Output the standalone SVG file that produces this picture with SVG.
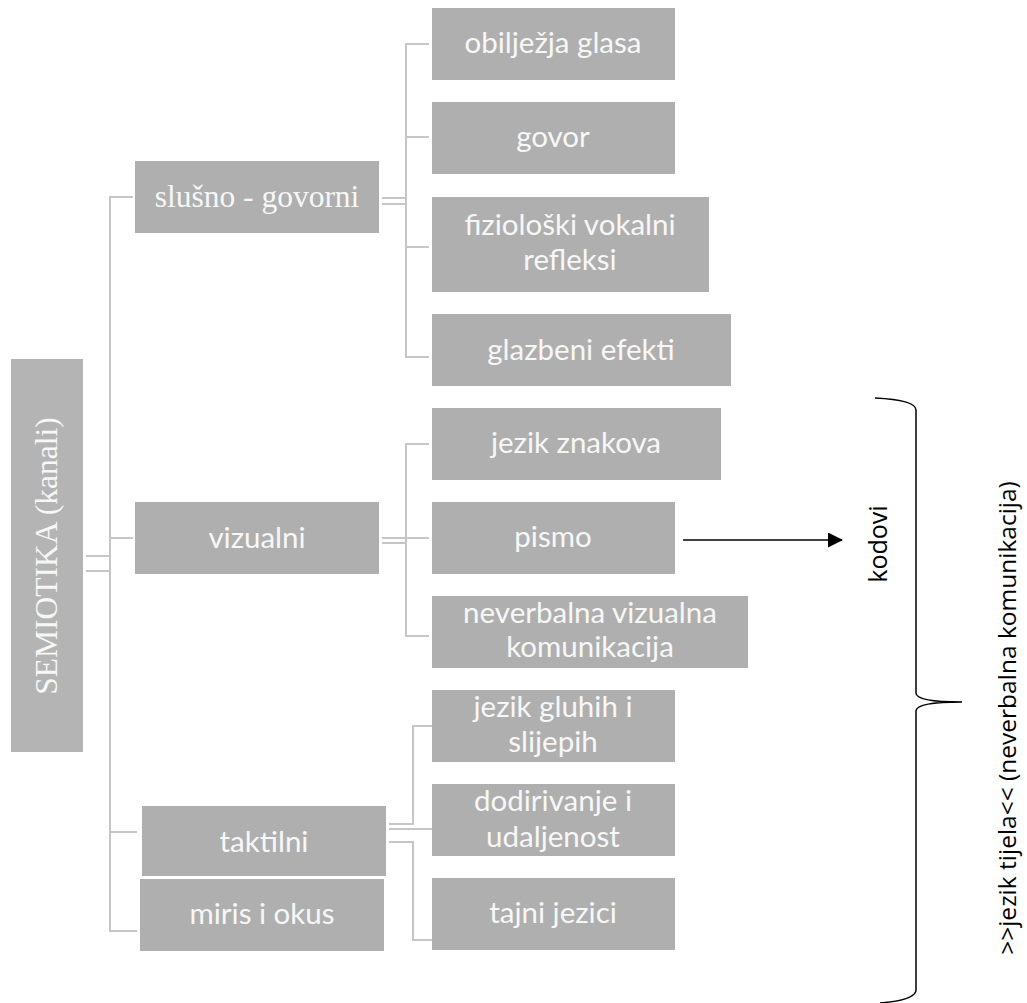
<svg xmlns="http://www.w3.org/2000/svg" width="1027" height="1003" viewBox="0 0 1027 1003">
<defs>
<style>
.box{fill:#afafaf;}
.root{fill:#b4b4b4;}
.lbl{font-family:Lato,"Liberation Sans",sans-serif;font-size:29.5px;fill:#f7f7f7;text-anchor:middle;}
.ser{font-family:"Liberation Serif",serif;font-size:31.5px;fill:#f7f7f7;text-anchor:middle;}
.con{fill:none;stroke:#c6c6c6;stroke-width:2;}
.blk{font-family:"Open Sans","Liberation Sans",sans-serif;fill:#000;text-anchor:middle;}
</style>
<marker id="ah" markerWidth="16" markerHeight="16" refX="14" refY="7.5" orient="auto" markerUnits="userSpaceOnUse">
<path d="M0 0 L15 7.5 L0 15 Z" fill="#000"/>
</marker>
</defs>
<rect width="1027" height="1003" fill="#fff"/>
<g id="connectors">
<path class="con" d="M86 556 H110 M86 571 H110"/>
<path class="con" d="M133 197 H110 V931 H137 M110 538 H133 M110 832 H137"/>
<path class="con" d="M382 198 H406 M382 204 H406"/>
<path class="con" d="M429 44 H406 V357 H429 M406 137 H429 M406 247 H429"/>
<path class="con" d="M382 538 H406 M382 543 H406"/>
<path class="con" d="M429 444 H406 V636 H429 M406 538 H429"/>
<path class="con" d="M389 824 H413 V726 H434 M389 829 H434 M389 842 H413 V940 H434"/>
<path d="M683 540 H842" stroke="#000" stroke-width="1.5" fill="none" marker-end="url(#ah)"/>
<path d="M875 398 Q916 400 916 410 V693 Q916 702 962 702 Q916 702 916 711 V990 Q916 1000 880 1003" stroke="#000" stroke-width="1.5" fill="none"/>
</g>
<g id="semiotika"><rect class="root" x="11" y="359" width="72" height="393"/><text class="ser" transform="translate(57 556) rotate(-90)">SEMIOTIKA (kanali)</text></g>
<g id="slusno"><rect class="box" x="135" y="161" width="244" height="72"/><text class="ser" x="257" y="207">slušno - govorni</text></g>
<g id="vizualni"><rect class="box" x="135" y="502" width="244" height="72"/><text class="lbl" x="257" y="548">vizualni</text></g>
<g id="taktilni"><rect class="box" x="142" y="806" width="244" height="70"/><text class="lbl" x="264" y="852">taktilni</text></g>
<g id="miris"><rect class="box" x="140" y="879" width="244" height="72"/><text class="lbl" x="262" y="924">miris i okus</text></g>
<g id="obiljezja"><rect class="box" x="432" y="8" width="243" height="72"/><text class="lbl" x="553" y="53">obilježja glasa</text></g>
<g id="govor"><rect class="box" x="432" y="102" width="243" height="72"/><text class="lbl" x="553" y="147">govor</text></g>
<g id="fizioloski"><rect class="box" x="432" y="197" width="277" height="95"/><text class="lbl" x="570" y="235">fiziološki vokalni</text><text class="lbl" x="570" y="270">refleksi</text></g>
<g id="glazbeni"><rect class="box" x="432" y="314" width="299" height="72"/><text class="lbl" x="581" y="360">glazbeni efekti</text></g>
<g id="jezikznakova"><rect class="box" x="432" y="408" width="289" height="72"/><text class="lbl" x="576" y="453">jezik znakova</text></g>
<g id="pismo"><rect class="box" x="432" y="502" width="243" height="72"/><text class="lbl" x="553" y="547">pismo</text></g>
<g id="neverbalna"><rect class="box" x="432" y="596" width="316" height="72"/><text class="lbl" x="590" y="623">neverbalna vizualna</text><text class="lbl" x="590" y="657">komunikacija</text></g>
<g id="gluhih"><rect class="box" x="432" y="690" width="243" height="72"/><text class="lbl" x="553" y="717">jezik gluhih i</text><text class="lbl" x="553" y="752">slijepih</text></g>
<g id="dodirivanje"><rect class="box" x="432" y="784" width="243" height="72"/><text class="lbl" x="553" y="811">dodirivanje i</text><text class="lbl" x="553" y="847">udaljenost</text></g>
<g id="tajni"><rect class="box" x="432" y="878" width="243" height="72"/><text class="lbl" x="553" y="923">tajni jezici</text></g>
<g id="kodovi"><text class="blk" font-size="25" transform="translate(887 544) rotate(-90)">kodovi</text></g>
<g id="jeziktijela"><text class="blk" font-size="24.5" transform="translate(1016 718) rotate(-90)">&gt;&gt;jezik tijela&lt;&lt; (neverbalna komunikacija)</text></g>
</svg>
